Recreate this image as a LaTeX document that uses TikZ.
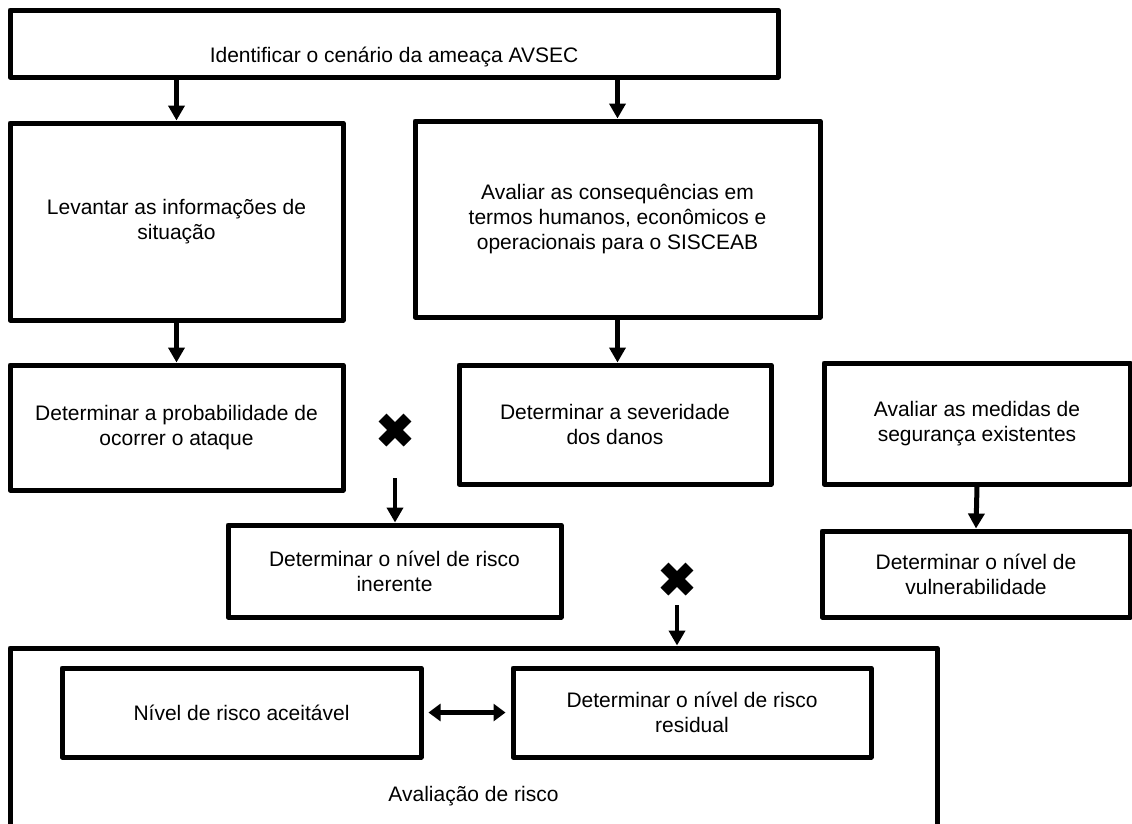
\documentclass[tikz,border=0pt]{standalone}
\usepackage{fontspec}
\setmainfont{Liberation Sans}
\usetikzlibrary{arrows.meta}
\begin{document}
\begin{tikzpicture}[x=1pt,y=-1pt,
  box/.style={draw, line width=5pt, line join=round, inner sep=0pt, align=center,
    font=\fontsize{21pt}{25pt}\selectfont},
  label/.style={inner sep=0pt, align=center, font=\fontsize{21pt}{25pt}\selectfont},
  flow/.style={line width=5pt, -{Triangle[width=16pt,length=15pt]}},
  thinflow/.style={line width=4pt, -{Triangle[width=16pt,length=15pt]}},
  both/.style={line width=5pt, {Triangle[width=17pt,length=12pt]}-{Triangle[width=17pt,length=12pt]},
    shorten <=5pt, shorten >=5pt},
  times/.style={minimum size=34pt, inner sep=0pt,
    path picture={
      \draw[line width=11pt] ([shift={(-12.5pt,-12.5pt)}]path picture bounding box.center)
        -- ([shift={(12.5pt,12.5pt)}]path picture bounding box.center);
      \draw[line width=11pt] ([shift={(-12.5pt,12.5pt)}]path picture bounding box.center)
        -- ([shift={(12.5pt,-12.5pt)}]path picture bounding box.center);
    }},
]
\useasboundingbox (0,0) rectangle (1132,823);
\clip (0,0) rectangle (1132,823);

% outer frame of the risk evaluation
\node[box, minimum width=927pt, minimum height=202pt] (big) at (473.5,749) {};
\node[label] (bigtext) at (473.5,796) {Avaliação de risco};

% boxes
\node[box, minimum width=768pt, minimum height=67pt, text height=37pt, text depth=0pt] (top) at (394,43.5)
  {Identificar o cenário da ameaça AVSEC};
\node[box, minimum width=333pt, minimum height=197pt] (lev) at (176.5,221.5)
  {Levantar as informações de\\situação};
\node[box, minimum width=405pt, minimum height=196pt] (cons) at (617.5,219)
  {Avaliar as consequências em\\termos humanos, econômicos e\\operacionais para o SISCEAB};
\node[box, minimum width=333pt, minimum height=125pt] (prob) at (176.5,427.5)
  {Determinar a probabilidade de\\ocorrer o ataque};
\node[box, minimum width=312pt, minimum height=119pt] (sev) at (615,424.5)
  {Determinar a severidade\\dos danos};
\node[box, minimum width=306pt, minimum height=121pt] (med) at (977,423.5)
  {Avaliar as medidas de\\segurança existentes};
\node[box, minimum width=308pt, minimum height=86pt] (vul) at (976,574)
  {Determinar o nível de\\vulnerabilidade};
\node[box, minimum width=333pt, minimum height=92pt] (inr) at (394.5,571)
  {Determinar o nível de risco\\inerente};
\node[box, minimum width=359pt, minimum height=89pt] (ace) at (241.5,712.5)
  {Nível de risco aceitável};
\node[box, minimum width=358pt, minimum height=89pt] (res) at (692,712.5)
  {Determinar o nível de risco\\residual};

% combination marks
\node[times] (x1) at (395,430) {};
\node[times] (x2) at (677,579) {};
\coordinate (x1s) at (395,478);
\coordinate (x2s) at (677,605);

% connectors
\draw[flow] (top.south -| lev.north) -- (lev.north);
\draw[flow] (top.south -| cons.north) -- (cons.north);
\draw[flow] (lev.south) -- (prob.north);
\draw[flow] (cons.south) -- (cons.south |- sev.north);
\draw[flow] (med.south) -- (vul.north);
\draw[thinflow] (x1s) -- (x1s |- inr.north);
\draw[thinflow] (x2s) -- (x2s |- big.north);
\draw[both] (ace.east) -- (res.west);
\end{tikzpicture}
\end{document}
